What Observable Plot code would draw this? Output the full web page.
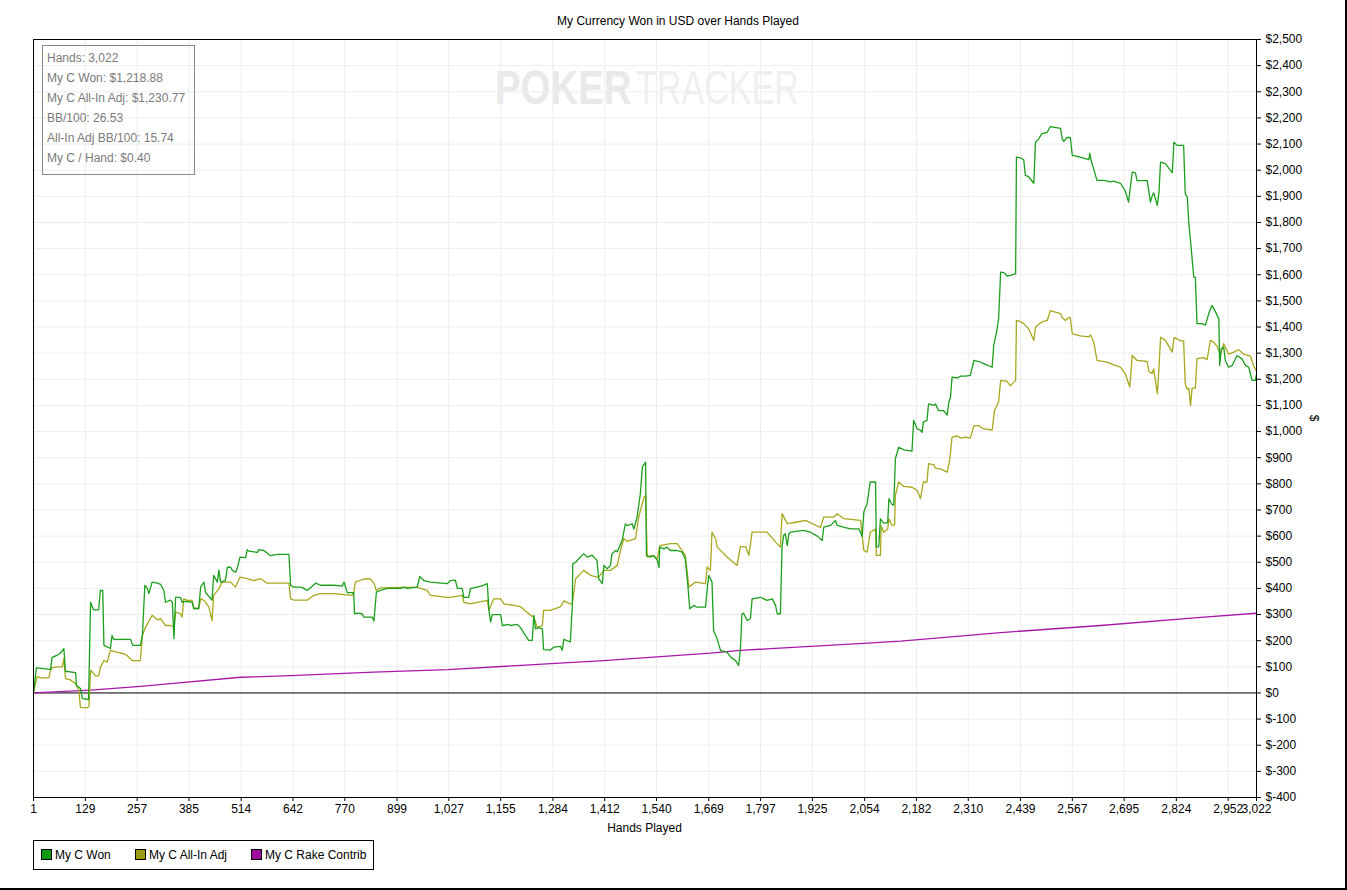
<!DOCTYPE html>
<html>
<head>
<meta charset="utf-8">
<script src="https://cdn.jsdelivr.net/npm/d3@7"></script>
<script src="https://cdn.jsdelivr.net/npm/@observablehq/plot@0.6"></script>
<style>
  html, body { margin: 0; padding: 0; background: #fff; }
  #wrap { position: relative; width: 1347px; height: 890px; overflow: hidden; background: #fff;
          font-family: "Liberation Sans", Arial, sans-serif; }
  #wm { position: absolute; left: 495px; top: 64px; font-size: 48px; line-height: 48px; white-space: nowrap; z-index: 0; }
  #wm .p { display: inline-block; font-weight: bold; color: #e9e9e9; transform: scaleX(0.8); transform-origin: left; width: 141px; }
  #wm .t { display: inline-block; color: #efefef; transform: scaleX(0.71); transform-origin: left; }
  #chart { position: absolute; left: 0; top: 0; z-index: 1; }
  .title { position: absolute; left: 0; width: 1356px; top: 14px; text-align: center; font-size: 12px; line-height: 14px; color: #000; z-index: 2; }
  .xlab { position: absolute; left: 33px; width: 1223px; top: 821px; text-align: center; font-size: 12px; line-height: 14px; z-index: 2; }
  .ylab { position: absolute; left: 1311px; top: 411px; font-size: 12px; line-height: 14px; transform: rotate(90deg); z-index: 2; }
  .stats { position: absolute; left: 42px; top: 45px; width: 150px; height: 127px; border: 1px solid #8a8a8a;
           color: #7a7a7a; font-size: 12px; line-height: 20px; padding: 2px 0 0 4px; box-sizing: border-box; width: 153px; height: 130px; z-index: 2; }
  .legend { position: absolute; left: 33px; top: 840px; width: 341px; height: 30px; border: 1px solid #000; box-sizing: border-box; z-index: 2; font-size: 12px; }
  .legend .it { position: absolute; top: 7px; line-height: 14px; white-space: nowrap; }
  .legend .sw { display: inline-block; width: 9px; height: 9px; border: 1px solid #000; vertical-align: -1px; margin-right: 3px; }
  .bR { position: absolute; right: 0; top: 0; width: 2px; height: 890px; background: #000; z-index: 3; }
  .bB { position: absolute; left: 0; bottom: 0; width: 1347px; height: 2px; background: #000; z-index: 3; }
</style>
</head>
<body>
<div id="wrap">
  <div id="wm"><span class="p">POKER</span><span class="t">TRACKER</span></div>
  <div id="chart"></div>
  <div class="title">My Currency Won in USD over Hands Played</div>
  <div class="xlab">Hands Played</div>
  <div class="ylab">$</div>
  <div class="stats" id="stats"></div>
  <div class="legend" id="legend"></div>
  <div class="bR"></div>
  <div class="bB"></div>
</div>
<script>
// ---------------- data ----------------
const seriesNames = ["My C Won", "My C All-In Adj", "My C Rake Contrib"];
const seriesColors = ["#1c9f1c", "#a8a81c", "#a818a8"];
const swatchColors = ["#119a11", "#9c9c12", "#9c109c"];

const statsLines = ["Hands: 3,022", "My C Won: $1,218.88", "My C All-In Adj: $1,230.77",
  "BB/100: 26.53", "All-In Adj BB/100: 15.74", "My C / Hand: $0.40"];

const xTickValues = [1,129,257,385,514,642,770,899,1027,1155,1284,1412,1540,1669,1797,1925,2054,2182,2310,2439,2567,2695,2824,2952,3022];
const yTickValues = [-400,-300,-200,-100,0,100,200,300,400,500,600,700,800,900,1000,1100,1200,1300,1400,1500,1600,1700,1800,1900,2000,2100,2200,2300,2400,2500];

const wonHands = [1,8,43,47,60,66,76,80,105,107,117,122,137,142,149,162,166,172,175,191,195,199,241,246,265,270,276,282,286,294,307,315,323,327,339,344,348,352,364,368,376,393,397,409,414,422,426,434,442,446,455,459,463,475,480,488,492,500,504,511,525,529,533,554,558,570,578,586,603,615,632,636,644,661,669,677,698,710,743,764,768,776,792,794,801,813,817,838,842,848,858,875,908,916,924,949,955,965,982,1023,1031,1043,1048,1060,1064,1076,1080,1109,1122,1126,1130,1134,1155,1159,1175,1179,1196,1204,1212,1224,1233,1237,1241,1249,1258,1261,1278,1286,1303,1307,1311,1327,1332,1333,1340,1360,1369,1381,1393,1397,1406,1410,1418,1426,1430,1439,1443,1455,1463,1467,1480,1484,1492,1500,1505,1513,1515,1525,1533,1542,1546,1548,1558,1566,1574,1591,1603,1611,1617,1622,1632,1640,1661,1665,1669,1677,1681,1690,1698,1714,1723,1735,1743,1747,1751,1755,1764,1772,1776,1797,1813,1826,1834,1838,1846,1850,1854,1858,1863,1867,1871,1904,1920,1937,1949,1953,1970,1982,1986,2002,2019,2040,2048,2052,2060,2068,2081,2083,2089,2093,2101,2111,2114,2122,2126,2130,2138,2151,2171,2175,2184,2192,2196,2199,2208,2212,2225,2229,2237,2249,2258,2262,2266,2270,2283,2291,2303,2315,2324,2336,2348,2369,2373,2381,2385,2390,2398,2406,2414,2427,2429,2439,2447,2451,2459,2472,2476,2484,2492,2505,2513,2538,2542,2546,2554,2562,2567,2579,2595,2608,2610,2614,2628,2645,2661,2669,2686,2698,2706,2715,2723,2727,2740,2752,2756,2760,2764,2768,2777,2781,2785,2797,2809,2814,2818,2826,2834,2842,2846,2851,2855,2859,2867,2871,2875,2888,2896,2904,2912,2921,2929,2931,2935,2941,2945,2953,2962,2974,2986,2995,3003,3011,3019,3022];
const wonValues = [0,96,90,136,145,150,169,83,78,29,17,-22,-25,347,318,318,392,392,182,170,220,205,205,182,182,220,411,400,380,424,420,415,392,347,355,347,207,366,366,347,350,347,323,323,405,424,384,370,355,450,424,471,424,430,481,481,470,462,475,520,518,548,543,538,548,545,535,525,530,530,530,411,405,405,400,392,420,412,412,409,424,384,384,303,305,303,290,290,275,386,392,400,400,405,400,405,446,430,424,418,430,432,400,400,366,366,399,410,418,316,271,300,300,258,262,258,262,250,230,201,201,297,245,250,245,166,164,175,178,163,205,195,335,494,500,533,520,527,507,437,418,488,475,488,533,545,540,583,647,640,647,627,673,762,864,883,526,520,526,507,480,558,551,558,545,545,539,513,418,322,335,328,328,395,450,424,239,205,163,156,137,124,105,163,303,305,277,284,360,366,354,360,335,303,303,558,603,609,564,609,615,622,615,600,583,634,641,660,641,634,628,628,599,692,724,807,807,558,560,666,650,652,743,720,720,896,940,930,925,1043,1010,1005,997,1036,1043,1106,1100,1106,1080,1080,1063,1113,1130,1208,1205,1212,1212,1215,1272,1268,1260,1246,1330,1390,1432,1610,1608,1595,1598,1604,2050,2047,2040,1980,1975,1950,2107,2120,2140,2145,2167,2160,2120,2110,2125,2125,2057,2053,2046,2040,2065,2035,1961,1961,1955,1958,1950,1920,1878,1993,1990,1960,1960,1960,1920,1878,1900,1913,1865,1913,2031,2025,2000,1990,2107,2095,2095,2095,1910,1897,1795,1730,1591,1591,1413,1413,1407,1451,1483,1457,1432,1253,1317,1323,1272,1246,1253,1291,1278,1253,1246,1196,1196,1219];

const adjHands = [1,10,18,39,43,47,60,72,76,80,92,105,113,117,134,138,142,146,154,162,166,175,183,191,204,224,232,245,265,270,278,294,307,315,327,339,348,352,364,368,372,381,393,397,409,414,422,434,442,446,459,467,488,500,511,529,545,562,578,632,636,644,677,693,710,743,788,792,796,817,833,842,848,858,908,949,973,982,1023,1031,1060,1064,1080,1122,1126,1138,1155,1163,1187,1204,1229,1237,1245,1258,1261,1278,1303,1311,1327,1332,1340,1360,1377,1393,1397,1410,1426,1443,1451,1459,1467,1488,1496,1509,1513,1517,1529,1542,1548,1574,1591,1611,1620,1636,1661,1665,1673,1677,1686,1690,1714,1739,1747,1760,1768,1776,1813,1834,1846,1850,1863,1887,1908,1945,1953,1978,1986,2002,2044,2052,2060,2068,2081,2083,2093,2095,2101,2111,2114,2122,2128,2130,2138,2151,2171,2184,2192,2199,2208,2212,2225,2229,2241,2258,2264,2270,2283,2291,2303,2315,2324,2336,2348,2369,2375,2385,2390,2406,2414,2427,2429,2439,2447,2459,2472,2476,2492,2505,2513,2538,2542,2550,2558,2562,2567,2587,2608,2612,2620,2628,2645,2657,2669,2686,2698,2709,2715,2727,2752,2756,2764,2768,2777,2781,2785,2797,2814,2818,2826,2834,2842,2846,2851,2855,2859,2863,2871,2875,2892,2900,2908,2916,2925,2933,2941,2953,2966,2978,2990,3007,3015,3022];
const adjValues = [0,63,58,58,86,97,100,100,131,55,50,35,10,-55,-57,-50,86,80,65,65,97,124,118,163,157,150,143,124,124,220,252,297,280,284,258,258,252,309,303,290,360,354,354,323,323,360,354,330,277,373,399,424,424,405,443,437,430,437,420,420,360,355,355,373,380,380,373,386,424,436,436,420,392,402,404,404,392,373,366,366,373,347,341,354,316,360,360,341,335,330,297,290,252,258,316,316,330,352,341,341,437,469,450,443,443,469,469,488,545,590,580,590,673,749,755,520,526,513,564,571,571,526,405,424,418,482,469,615,590,558,520,488,560,560,526,615,615,577,558,686,648,654,660,633,673,673,686,667,660,545,539,615,627,526,526,640,615,627,666,640,643,756,807,790,787,775,743,807,807,877,873,860,857,845,890,979,983,975,979,975,1023,1023,1010,1006,1081,1113,1196,1192,1175,1196,1425,1421,1413,1393,1349,1400,1420,1425,1463,1451,1436,1425,1436,1436,1374,1366,1362,1370,1342,1272,1268,1264,1255,1247,1221,1170,1291,1272,1268,1230,1222,1240,1145,1240,1361,1349,1304,1359,1355,1347,1347,1183,1162,1166,1100,1166,1166,1279,1283,1275,1349,1342,1325,1293,1336,1296,1304,1313,1296,1289,1251,1231];

const rakeHands = [1,142,265,347,512,636,841,1024,1409,1673,1747,2051,2143,2390,2637,2884,3022];
const rakeValues = [0,11,25,37,60,66,80,89,124,152,163,190,198,231,258,289,305];

// ---------------- build tables ----------------
const won = wonHands.map((h, i) => ({hand: h, value: wonValues[i]}));
const adj = adjHands.map((h, i) => ({hand: h, value: adjValues[i]}));
const rake = rakeHands.map((h, i) => ({hand: h, value: rakeValues[i]}));

const money = d => "$" + (d < 0 ? "-" : "") + d3.format(",")(Math.abs(d));

const chart = Plot.plot({
  width: 1347,
  height: 890,
  marginLeft: 33,
  marginRight: 91,
  marginTop: 39,
  marginBottom: 93,
  style: {background: "transparent", fontFamily: "'Liberation Sans', Arial, sans-serif", fontSize: "12px", color: "#000"},
  x: {domain: [1, 3022]},
  y: {domain: [-400, 2500]},
  marks: [
    Plot.gridY(yTickValues, {stroke: "#ededed", strokeOpacity: 1}),
    Plot.gridX(xTickValues, {stroke: "#ededed", strokeOpacity: 1}),
    Plot.ruleY([0], {stroke: "#000", strokeWidth: 1}),
    Plot.line(rake, {x: "hand", y: "value", stroke: seriesColors[2], strokeWidth: 1.3}),
    Plot.line(adj, {x: "hand", y: "value", stroke: seriesColors[1], strokeWidth: 1.3}),
    Plot.line(won, {x: "hand", y: "value", stroke: seriesColors[0], strokeWidth: 1.3}),
    Plot.frame({stroke: "#000"}),
    Plot.axisY(yTickValues, {anchor: "right", tickFormat: money, tickSize: 4, tickPadding: 5, label: null, fontSize: 12}),
    Plot.axisX(xTickValues, {anchor: "bottom", tickFormat: d3.format(","), tickSize: 4, tickPadding: 3, label: null, fontSize: 12})
  ]
});
document.getElementById("chart").appendChild(chart);

// stats box
const st = document.getElementById("stats");
statsLines.forEach(t => { const d = document.createElement("div"); d.textContent = t; st.appendChild(d); });

// legend
const lg = document.getElementById("legend");
const lgLeft = [7, 101, 217];
seriesNames.forEach((n, i) => {
  const it = document.createElement("div");
  it.className = "it";
  it.style.left = lgLeft[i] + "px";
  const sw = document.createElement("span");
  sw.className = "sw";
  sw.style.background = swatchColors[i];
  it.appendChild(sw);
  it.appendChild(document.createTextNode(n));
  lg.appendChild(it);
});
</script>
</body>
</html>
